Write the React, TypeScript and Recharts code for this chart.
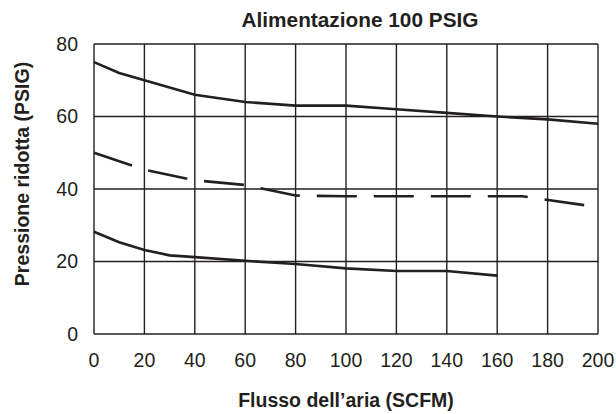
import React from 'react';
import { LineChart, Line, XAxis, YAxis, CartesianGrid, Label, Customized } from 'recharts';

const xTicks = [0, 20, 40, 60, 80, 100, 120, 140, 160, 180, 200];
const yTicks = [0, 20, 40, 60, 80];

const topFlow = [0, 10, 20, 40, 60, 80, 100, 120, 140, 160, 180, 200];
const topPressure = [75, 72, 70, 66, 64, 63, 63, 62, 61, 60, 59.2, 58];

const midFlow = [0, 20, 40, 60, 80, 100, 120, 140, 160, 170, 200];
const midPressure = [50, 45.3, 42.4, 41.1, 38.2, 38, 38, 38, 38, 38, 35];

const lowFlow = [0, 10, 20, 30, 40, 60, 80, 100, 120, 140, 160];
const lowPressure = [28.2, 25.3, 23.2, 21.7, 21.2, 20.2, 19.3, 18.1, 17.4, 17.4, 16.1];

const toRows = (xs: number[], ys: number[]) => xs.map((x, i) => ({ x, y: ys[i] }));

const topData = toRows(topFlow, topPressure);
const midData = toRows(midFlow, midPressure);
const lowData = toRows(lowFlow, lowPressure);

const INK = '#231f20';
const FONT = '"Liberation Sans", Arial, Helvetica, sans-serif';

export default function App() {
  return (
    <div style={{ position: 'absolute', left: 0, top: 0, width: 616, height: 414, background: '#fff' }}>
      <LineChart width={616} height={414} margin={{ top: 44, right: 18, bottom: 0, left: 0 }}>
        <CartesianGrid stroke={INK} strokeWidth={1.4} />
        <XAxis
          type="number"
          dataKey="x"
          domain={[0, 200]}
          ticks={xTicks}
          axisLine={false}
          tickLine={false}
          tickMargin={13}
          height={80}
          allowDuplicatedCategory={false}
          tick={{ fontSize: 19.5, fill: INK, fontFamily: FONT }}
          interval={0}
        >
          <Label
            content={() => (
              <text x={346} y={400} textAnchor="middle" dominantBaseline="central" fontSize={19.5} fontWeight="bold" fill={INK} fontFamily={FONT}>
                Flusso dell’aria (SCFM)
              </text>
            )}
          />
        </XAxis>
        <YAxis
          type="number"
          dataKey="y"
          domain={[0, 80]}
          ticks={yTicks}
          axisLine={false}
          tickLine={false}
          tickMargin={10}
          width={94}
          tick={{ fontSize: 19.5, fill: INK, fontFamily: FONT }}
          interval={0}
        >
          <Label
            content={() => (
              <text x={22} y={174} transform="rotate(-90 22 174)" textAnchor="middle" dominantBaseline="central" fontSize={19.5} fontWeight="bold" fill={INK} fontFamily={FONT}>
                Pressione ridotta (PSIG)
              </text>
            )}
          />
        </YAxis>
        <Line data={topData} dataKey="y" type="linear" stroke={INK} strokeWidth={2.6} dot={false} activeDot={false} isAnimationActive={false} />
        <Line data={midData} dataKey="y" type="linear" stroke={INK} strokeWidth={2.6} strokeDasharray="40 17" dot={false} activeDot={false} isAnimationActive={false} />
        <Line data={lowData} dataKey="y" type="linear" stroke={INK} strokeWidth={2.6} dot={false} activeDot={false} isAnimationActive={false} />
        <Customized
          component={() => (
            <text x={360} y={19} textAnchor="middle" dominantBaseline="central" fontSize={20.8} fontWeight="bold" fill={INK} fontFamily={FONT}>
              Alimentazione 100 PSIG
            </text>
          )}
        />
      </LineChart>
    </div>
  );
}
